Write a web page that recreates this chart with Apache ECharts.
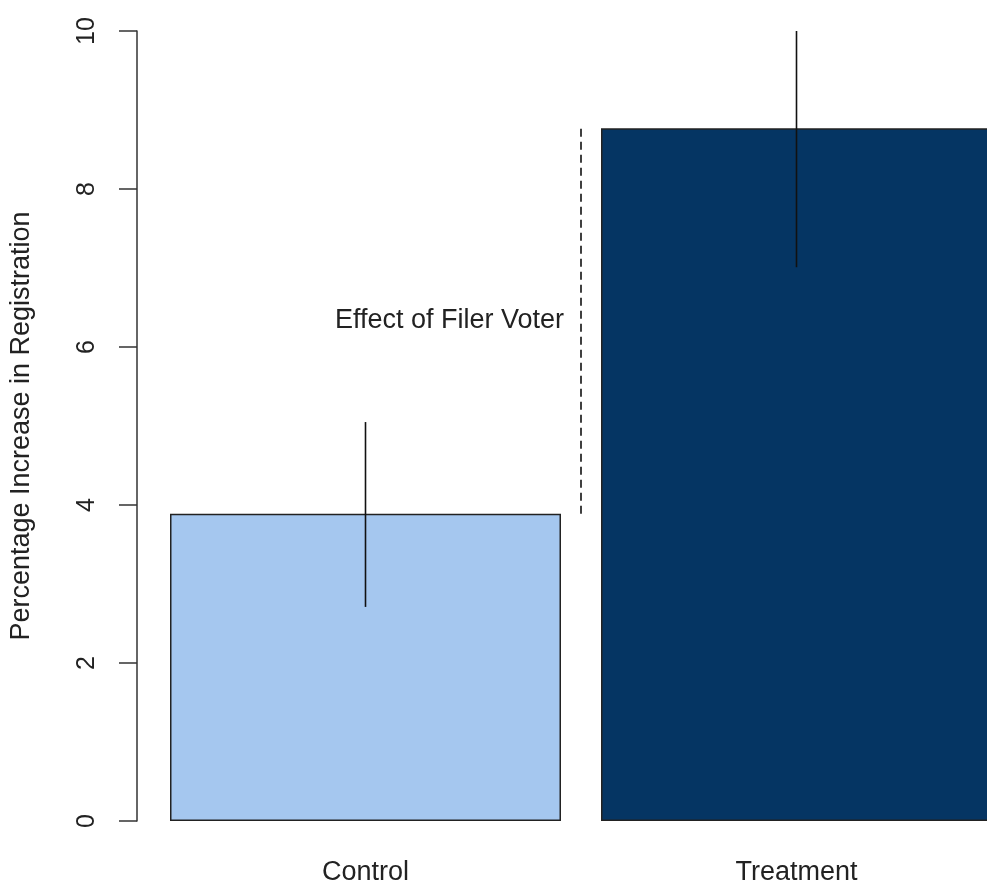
<!DOCTYPE html>
<html>
<head>
<meta charset="utf-8">
<title>Percentage Increase in Registration</title>
<script src="https://cdn.jsdelivr.net/npm/echarts@6/dist/echarts.min.js"></script>
<style>
  html, body { margin: 0; padding: 0; background: #ffffff; }
  #chart { width: 987px; height: 884px; }
</style>
</head>
<body>
<div id="chart"></div>
<script>
// Group names and mean increase in registration (percent)
const categories = ['Control', 'Treatment'];
const means = [3.89, 8.77];
// Confidence interval ends for each group
const lower = [2.71, 7.01];
const upper = [5.05, 10.0];
const barColors = ['#A5C7EF', '#053563'];
const effectLabel = 'Effect of Filer Voter';
const yMin = 0, yMax = 10, yStep = 2;

const FONT = '"Liberation Sans", Arial, Helvetica, sans-serif';
const INK = '#222222';

const chart = echarts.init(document.getElementById('chart'), null, { renderer: 'canvas' });

chart.setOption({
  animation: false,
  backgroundColor: '#ffffff',
  // plot region runs past the right edge of the canvas
  grid: {
    left: 150, width: 862, top: 31, bottom: 63,
    containLabel: false,
    outerBoundsMode: 'none'
  },
  xAxis: {
    type: 'category',
    data: categories,
    axisLine: { show: false },
    axisTick: { show: false },
    axisLabel: { color: INK, fontFamily: FONT, fontSize: 27, margin: 38 }
  },
  yAxis: {
    type: 'value',
    min: yMin,
    max: yMax,
    interval: yStep,
    offset: 13,
    name: 'Percentage Increase in Registration',
    nameLocation: 'middle',
    nameRotate: 90,
    nameGap: 102,
    nameTextStyle: { color: INK, fontFamily: FONT, fontSize: 27 },
    splitLine: { show: false },
    axisLine: { show: true, lineStyle: { color: '#333', width: 1.5 } },
    axisTick: { show: true, length: 18, lineStyle: { color: '#333', width: 1.5 } },
    axisLabel: { color: INK, fontFamily: FONT, fontSize: 25, rotate: 90, margin: 37 }
  },
  series: [
    {
      type: 'bar',
      barWidth: 391,
      data: means.map((v, i) => ({
        value: v,
        itemStyle: { color: barColors[i], borderColor: '#222', borderWidth: 1.5 }
      })),
      z: 2
    },
    {
      // vertical interval lines through each bar
      type: 'custom',
      z: 3,
      data: categories.map((c, i) => [i, lower[i], upper[i]]),
      renderItem: function (params, api) {
        const x = api.value(0);
        const p1 = api.coord([x, api.value(1)]);
        const p2 = api.coord([x, api.value(2)]);
        return {
          type: 'line',
          shape: { x1: p1[0], y1: p1[1], x2: p2[0], y2: p2[1] },
          style: { stroke: '#111', lineWidth: 1.6 }
        };
      }
    },
    {
      // dashed span between the two group means, with its caption
      type: 'custom',
      z: 3,
      data: [[0, means[0], means[1]]],
      renderItem: function (params, api) {
        const a = api.coord([api.value(0), api.value(1)]);
        const b = api.coord([api.value(0), api.value(2)]);
        const half = api.size([1, 0])[0] / 2;
        const x = a[0] + half;
        return {
          type: 'group',
          children: [
            {
              type: 'line',
              shape: { x1: x, y1: a[1], x2: x, y2: b[1] },
              style: { stroke: '#111', lineWidth: 1.6, lineDash: [8, 5] }
            },
            {
              type: 'text',
              x: x - 17,
              y: (a[1] + b[1]) / 2,
              style: {
                text: effectLabel,
                fill: INK,
                font: '27px ' + FONT,
                align: 'right',
                verticalAlign: 'middle'
              }
            }
          ]
        };
      }
    }
  ]
});
</script>
</body>
</html>
